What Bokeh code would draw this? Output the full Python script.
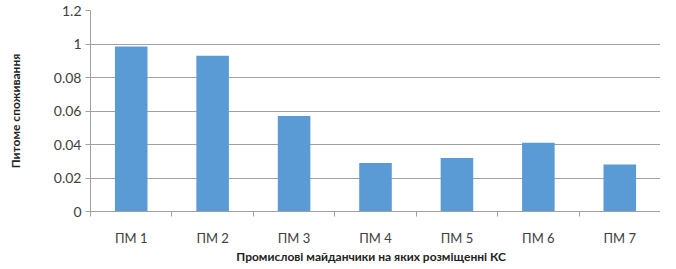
from bokeh.plotting import figure
from bokeh.models import FixedTicker, Range1d, ColumnDataSource
from bokeh.embed import file_html
from bokeh.resources import INLINE

categories = ["ПМ 1", "ПМ 2", "ПМ 3", "ПМ 4", "ПМ 5", "ПМ 6", "ПМ 7"]
values = [0.0985, 0.093, 0.057, 0.029, 0.032, 0.041, 0.028]
y_ticks = [0, 0.02, 0.04, 0.06, 0.08, 0.10, 0.12]
y_tick_labels = ["0", "0.02", "0.04", "0.06", "0.08", "1", "1.2"]
x_title = "Промислові  майданчики  на яких  розміщенні КС"
y_title = "Питоме споживання"

xs = list(range(1, len(categories) + 1))
src = ColumnDataSource(dict(x=xs, top=values, cat=categories))

FONT = "Lato"
p = figure(frame_width=570, frame_height=201, output_backend="svg", toolbar_location=None,
           x_range=Range1d(0.5, len(categories) + 0.5), y_range=Range1d(0, 0.12))
p.min_border_left = 90
p.min_border_right = 0
p.min_border_top = 10
p.min_border_bottom = 0
p.outline_line_color = None
p.background_fill_color = "white"

p.vbar(x="x", top="top", width=0.4, source=src, color="#5b9bd5", line_color=None)

# x axis
xt = FixedTicker(ticks=xs, minor_ticks=[i + 0.5 for i in range(0, len(categories) + 1)])
p.xaxis.ticker = xt
p.xaxis.major_label_overrides = {x: c for x, c in zip(xs, categories)}
p.xaxis.major_tick_line_color = None
p.xaxis.major_tick_out = 5
p.xaxis.major_tick_in = 0
p.xaxis.minor_tick_line_color = "#a0a0a0"
p.xaxis.minor_tick_out = 5
p.xaxis.minor_tick_in = 0
p.xaxis.axis_line_color = "#a0a0a0"
p.xaxis.major_label_text_font = FONT
p.xaxis.major_label_text_font_size = "13px"
p.xaxis.major_label_text_color = "#404040"
p.xaxis.major_label_standoff = 13
p.xaxis.axis_label = x_title
p.xaxis.axis_label_text_font = FONT
p.xaxis.axis_label_text_font_style = "bold"
p.xaxis.axis_label_text_font_size = "12px"
p.xaxis.axis_label_text_color = "#222222"
p.xaxis.axis_label_standoff = 0
p.xgrid.grid_line_color = None

# y axis
p.yaxis.ticker = FixedTicker(ticks=y_ticks, minor_ticks=[])
p.yaxis.major_label_overrides = {t: l for t, l in zip(y_ticks, y_tick_labels)}
p.yaxis.major_tick_line_color = "#a0a0a0"
p.yaxis.major_tick_out = 5
p.yaxis.major_tick_in = 0
p.yaxis.axis_line_color = "#a0a0a0"
p.yaxis.major_label_text_font = FONT
p.yaxis.major_label_text_font_size = "14px"
p.yaxis.major_label_text_color = "#404040"
p.yaxis.major_label_standoff = 4
p.yaxis.axis_label = y_title
p.yaxis.axis_label_text_font = FONT
p.yaxis.axis_label_text_font_style = "bold"
p.yaxis.axis_label_text_font_size = "12px"
p.yaxis.axis_label_text_color = "#222222"
p.yaxis.axis_label_standoff = 28
p.ygrid.grid_line_color = "#a0a0a0"
p.ygrid.grid_line_width = 1

open("out.html", "w").write(file_html(p, INLINE))
